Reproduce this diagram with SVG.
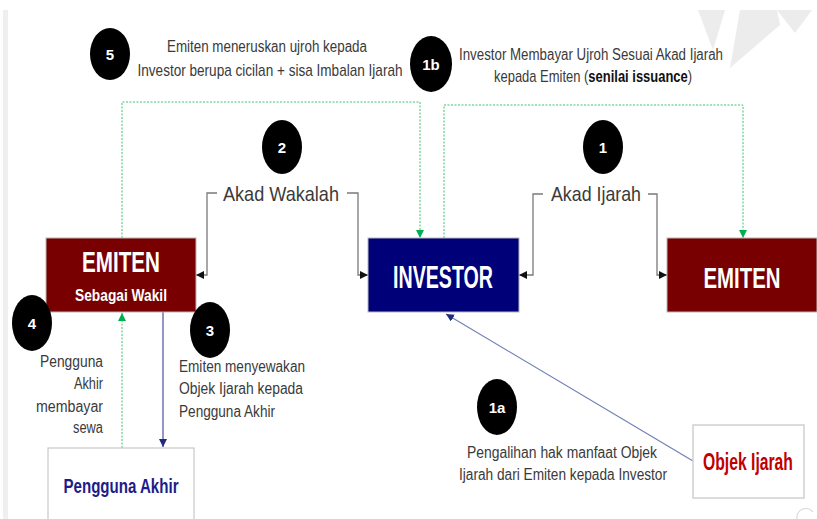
<svg xmlns="http://www.w3.org/2000/svg" width="817" height="519" viewBox="0 0 817 519">
<defs>
<style>
.lbl{font-family:"Liberation Sans",Arial,sans-serif;font-size:16px;fill:#3a3a3a}
.bold{font-weight:bold;fill:#111}
.box{font-family:"Liberation Sans",Arial,sans-serif;font-weight:bold;text-anchor:middle}
.num{font-family:"Liberation Sans",Arial,sans-serif;font-weight:bold;font-size:15px;fill:#fff;text-anchor:middle}
.conn{fill:none;stroke:#7a7a7a;stroke-width:1.3}
.green{fill:none;stroke:#3cc46a;stroke-width:1;stroke-dasharray:2 1.5}
.navy{fill:none;stroke:#2b2b90;stroke-width:1}
.steel{fill:none;stroke:#6f80b5;stroke-width:1.2}
</style>
<marker id="aBlack" viewBox="0 0 10 10" refX="10" refY="5" markerUnits="userSpaceOnUse" markerWidth="8" markerHeight="8" orient="auto"><path d="M0,0 L10,5 L0,10 z" fill="#111"/></marker>
<marker id="aGreen" viewBox="0 0 10 10" refX="10" refY="5" markerUnits="userSpaceOnUse" markerWidth="8" markerHeight="8" orient="auto"><path d="M0,0 L10,5 L0,10 z" fill="#00b050"/></marker>
<marker id="aNavy" viewBox="0 0 10 10" refX="10" refY="5" markerUnits="userSpaceOnUse" markerWidth="8" markerHeight="8" orient="auto"><path d="M0,0 L10,5 L0,10 z" fill="#1f2a80"/></marker>
</defs>
<rect x="0" y="0" width="817" height="519" fill="#fff"/>
<rect x="3" y="10" width="5" height="509" fill="#efefef"/>
<g id="watermark" fill="#ececec">
<polygon points="698,10 725,10 713,50"/>
<polygon points="740,10 777,10 780,25 730,68"/>
<polygon points="777,10 812,10 795,33"/>
<path d="M797,519 A9,9 0 0 1 813,512" fill="none" stroke="#d8d8d8" stroke-width="1.2"/>
</g>

<g id="connectors">
<path class="conn" d="M217,193 H207 V275 H196" marker-end="url(#aBlack)"/>
<path class="conn" d="M347,193 H358 V275 H368" marker-end="url(#aBlack)"/>
<path class="conn" d="M543,194 H533 V275 H519" marker-end="url(#aBlack)"/>
<path class="conn" d="M648,194 H657 V275 H667" marker-end="url(#aBlack)"/>
<path class="green" d="M122,238 V102 H420 V238" marker-end="url(#aGreen)"/>
<path class="green" d="M444,238 V105 H743 V238" marker-end="url(#aGreen)"/>
<path class="green" d="M122,448 V313" marker-end="url(#aGreen)"/>
<path class="navy" d="M163,312 V447" marker-end="url(#aNavy)"/>
<path class="steel" d="M693,461 L446,314" marker-end="url(#aNavy)"/>
</g>

<g id="label-wakalah"><text class="lbl" x="281" y="201" text-anchor="middle" textLength="116" lengthAdjust="spacingAndGlyphs" style="font-size:21px">Akad Wakalah</text></g>
<g id="label-ijarah"><text class="lbl" x="596" y="201" text-anchor="middle" textLength="90" lengthAdjust="spacingAndGlyphs" style="font-size:21px">Akad Ijarah</text></g>

<g id="emiten-wakil">
<rect x="46" y="238" width="150" height="74" fill="#780000" stroke="#b8b8b8" stroke-width="1"/>
<text class="box" x="121" y="272" fill="#fff" style="font-size:29px" textLength="78" lengthAdjust="spacingAndGlyphs">EMITEN</text>
<text class="box" x="121" y="301" fill="#fff" style="font-size:16px" textLength="92" lengthAdjust="spacingAndGlyphs">Sebagai Wakil</text>
</g>
<g id="investor">
<rect x="368" y="238" width="151" height="74" fill="#000078" stroke="#b8b8b8" stroke-width="1"/>
<text class="box" x="443" y="288" fill="#fff" style="font-size:31px" textLength="100" lengthAdjust="spacingAndGlyphs">INVESTOR</text>
</g>
<g id="emiten">
<rect x="667" y="238" width="150" height="74" fill="#780000" stroke="#b8b8b8" stroke-width="1"/>
<text class="box" x="742" y="288" fill="#fff" style="font-size:30px" textLength="77" lengthAdjust="spacingAndGlyphs">EMITEN</text>
</g>
<g id="pengguna-akhir">
<rect x="48" y="448" width="146" height="80" fill="#fff" stroke="#c8c8c8" stroke-width="1.2"/>
<text class="box" x="121" y="493" fill="#1c1c8a" style="font-size:21px" textLength="115" lengthAdjust="spacingAndGlyphs">Pengguna Akhir</text>
</g>
<g id="objek-ijarah">
<rect x="693" y="425" width="111" height="73" fill="#fff" stroke="#d0d0d0" stroke-width="1.5"/>
<text class="box" x="0" y="0" transform="translate(748,470) scale(0.683,1)" fill="#c00000" style="font-size:23px">Objek Ijarah</text>
</g>

<g id="step-5">
<ellipse cx="110" cy="54" rx="20" ry="26" fill="#000"/>
<text class="num" x="110" y="59.5">5</text>
<text class="lbl" x="267" y="52" text-anchor="middle" textLength="200" lengthAdjust="spacingAndGlyphs">Emiten meneruskan ujroh kepada</text>
<text class="lbl" x="0" y="0" transform="translate(270,76) scale(0.848,1)" text-anchor="middle">Investor berupa cicilan + sisa Imbalan Ijarah</text>
</g>
<g id="step-1b">
<ellipse cx="431" cy="64" rx="21" ry="28" fill="#000"/>
<text class="num" x="431" y="69.5">1b</text>
<text class="lbl" x="591" y="60" text-anchor="middle" textLength="264" lengthAdjust="spacingAndGlyphs">Investor Membayar Ujroh Sesuai Akad Ijarah</text>
<text class="lbl" x="0" y="0" transform="translate(494,82) scale(0.811,1)">kepada Emiten (<tspan class="bold">senilai issuance</tspan>)</text>
</g>
<g id="step-2">
<ellipse cx="282" cy="147" rx="20" ry="27" fill="#000"/>
<text class="num" x="282" y="152.5">2</text>
</g>
<g id="step-1">
<ellipse cx="603" cy="147" rx="20" ry="27" fill="#000"/>
<text class="num" x="603" y="152.5">1</text>
</g>
<g id="step-4">
<ellipse cx="32" cy="323" rx="20" ry="28" fill="#000"/>
<text class="num" x="32" y="328.5">4</text>
<text class="lbl" x="103" y="367" text-anchor="end" textLength="63" lengthAdjust="spacingAndGlyphs">Pengguna</text>
<text class="lbl" x="103" y="389" text-anchor="end" textLength="29" lengthAdjust="spacingAndGlyphs">Akhir</text>
<text class="lbl" x="103" y="412" text-anchor="end" textLength="67" lengthAdjust="spacingAndGlyphs">membayar</text>
<text class="lbl" x="103" y="433" text-anchor="end" textLength="30" lengthAdjust="spacingAndGlyphs">sewa</text>
</g>
<g id="step-3">
<ellipse cx="210" cy="330" rx="20" ry="28" fill="#000"/>
<text class="num" x="210" y="335.5">3</text>
<text class="lbl" x="179" y="372" textLength="126" lengthAdjust="spacingAndGlyphs">Emiten menyewakan</text>
<text class="lbl" x="179" y="394" textLength="124" lengthAdjust="spacingAndGlyphs">Objek Ijarah kepada</text>
<text class="lbl" x="179" y="417" textLength="96" lengthAdjust="spacingAndGlyphs">Pengguna Akhir</text>
</g>
<g id="step-1a">
<ellipse cx="497" cy="407" rx="20" ry="28" fill="#000"/>
<text class="num" x="497" y="412.5">1a</text>
<text class="lbl" x="562" y="458" text-anchor="middle" textLength="190" lengthAdjust="spacingAndGlyphs">Pengalihan hak manfaat Objek</text>
<text class="lbl" x="563" y="480" text-anchor="middle" textLength="208" lengthAdjust="spacingAndGlyphs">Ijarah dari Emiten kepada Investor</text>
</g>
</svg>
